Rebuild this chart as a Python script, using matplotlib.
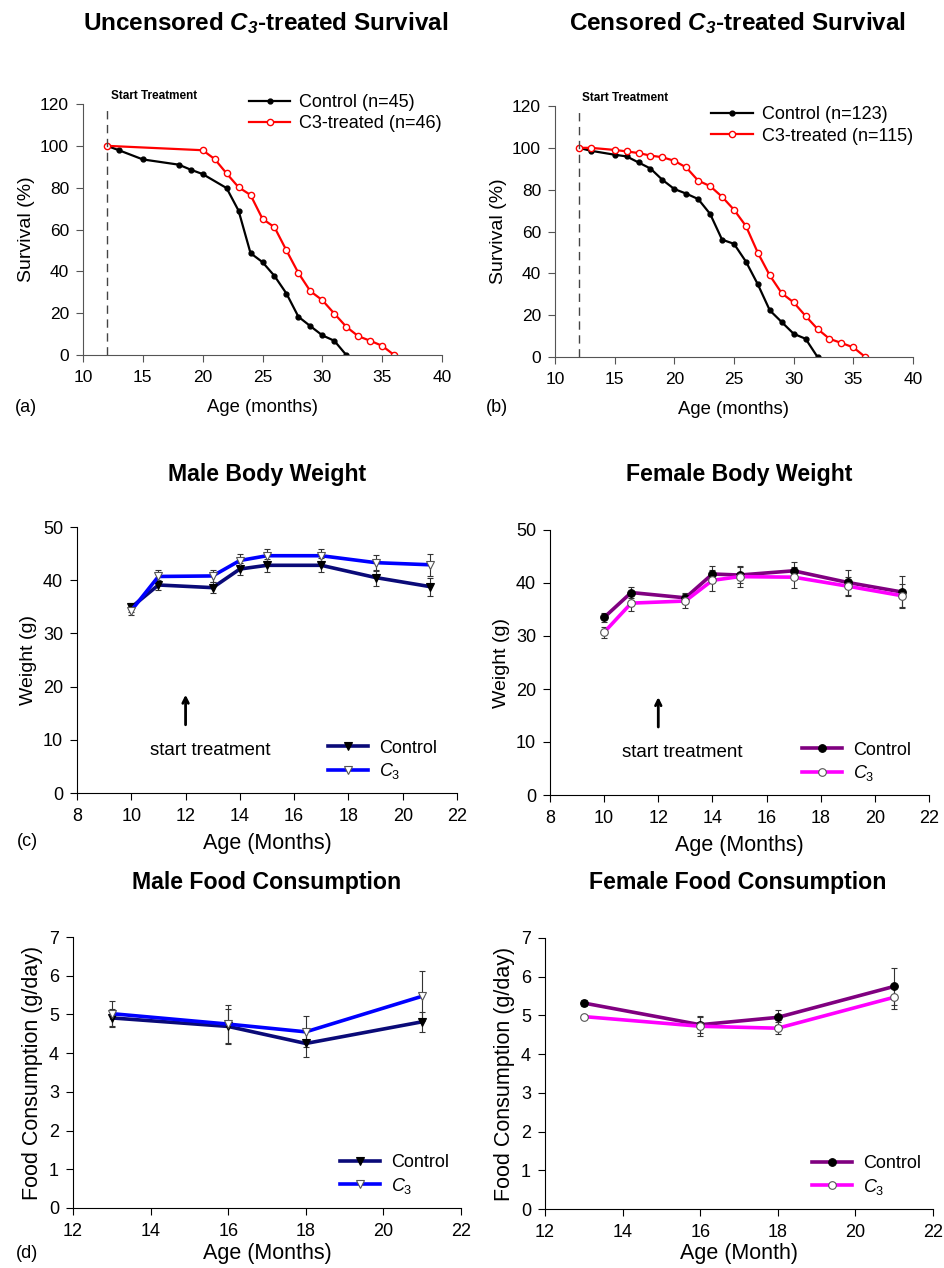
import matplotlib
matplotlib.use('Agg')
import matplotlib.pyplot as plt

plt.rcParams['font.family'] = ['Liberation Sans', 'DejaVu Sans']
plt.rcParams['mathtext.fontset'] = 'custom'
plt.rcParams['mathtext.rm'] = 'Liberation Sans'
plt.rcParams['mathtext.it'] = 'Liberation Sans:italic'
plt.rcParams['mathtext.bf'] = 'Liberation Sans:bold:italic'

# survival data (percent alive)
uncens_ctrl_age = [12, 13, 15, 18, 19, 20, 22, 23, 24, 25, 26, 27, 28, 29, 30, 31, 32]
uncens_ctrl_surv = [100, 97.9, 93.5, 91, 88.6, 86.5, 79.8, 69, 48.7, 44.4, 37.8, 29.4, 18.3, 13.8, 9.4, 6.8, 0]
uncens_c3_age = [12, 20, 21, 22, 23, 24, 25, 26, 27, 28, 29, 30, 31, 32, 33, 34, 35, 36]
uncens_c3_surv = [100, 97.9, 93.7, 86.8, 80.2, 76.5, 65.1, 61.1, 50, 39.2, 30.5, 26.2, 19.8, 13.5, 9, 6.8, 4.4, 0]

cens_ctrl_age = [12, 13, 15, 16, 17, 18, 19, 20, 21, 22, 23, 24, 25, 26, 27, 28, 29, 30, 31, 32]
cens_ctrl_surv = [100, 98.6, 96.7, 95.9, 93, 90.1, 84.7, 80.3, 78.1, 75.5, 68.4, 56.1, 54.1, 45.6, 34.7, 22.3, 16.7, 11.1, 8.7, 0]
cens_c3_age = [12, 13, 15, 16, 17, 18, 19, 20, 21, 22, 23, 24, 25, 26, 27, 28, 29, 30, 31, 32, 33, 34, 35, 36]
cens_c3_surv = [100, 100, 99, 98.3, 97.5, 96.3, 95.5, 93.8, 90.6, 84.3, 81.7, 76.6, 70.4, 62.6, 49.8, 39, 30.5, 26.1, 19.6, 13.4, 8.7, 6.7, 4.6, 0]

# body weight (g), mean and error
weight_age = [10, 11, 13, 14, 15, 17, 19, 21]
male_w_ctrl = [34.9, 39.1, 38.6, 42.1, 42.8, 42.8, 40.5, 38.8]
male_w_ctrl_err = [0.8, 1.0, 1.0, 1.2, 1.2, 1.3, 1.5, 1.7]
male_w_c3 = [34.3, 40.7, 40.8, 43.7, 44.6, 44.6, 43.3, 42.9]
male_w_c3_err = [0.8, 1.2, 1.2, 1.3, 1.2, 1.2, 1.5, 2.1]
female_w_ctrl = [33.5, 38.2, 37.2, 41.7, 41.5, 42.3, 40.1, 38.3]
female_w_ctrl_err = [0.8, 1.0, 1.0, 1.6, 1.5, 1.6, 2.4, 3.0]
female_w_c3 = [30.7, 36.2, 36.6, 40.5, 41.2, 41.1, 39.4, 37.6]
female_w_c3_err = [1.0, 1.5, 1.3, 2.0, 2.0, 2.0, 1.8, 2.2]

# food consumption (g/day)
food_age = [13, 16, 18, 21]
male_f_ctrl = [4.91, 4.69, 4.25, 4.81]
male_f_ctrl_err = [0.24, 0.45, 0.35, 0.26]
male_f_c3 = [5.02, 4.75, 4.55, 5.47]
male_f_c3_err = [0.32, 0.5, 0.4, 0.65]
female_f_ctrl = [5.32, 4.76, 4.95, 5.75]
female_f_ctrl_err = [0.08, 0.22, 0.2, 0.47]
female_f_c3 = [4.97, 4.72, 4.67, 5.47]
female_f_c3_err = [0.05, 0.25, 0.15, 0.3]

W, H = 944, 1268
fig = plt.figure(figsize=(W / 100, H / 100), dpi=100)


# axes from pixel box (left, top, right, bottom)
def add_ax(l, t, r, b, xlab_px):
    ax = fig.add_axes([l / W, 1 - b / H, (r - l) / W, (b - t) / H])
    ax.spines['top'].set_visible(False)
    ax.spines['right'].set_visible(False)
    ax.tick_params(labelsize=13, direction='out', length=5)
    ax.tick_params(axis='x', pad=6)
    ax.tick_params(axis='y', pad=5)
    # x label centre, pixels below the axis line
    ax.xaxis.set_label_coords(0.5, -xlab_px / (b - t))
    return ax


def survival_panel(box, ctrl_age, ctrl, c3_age, c3, n_ctrl, n_c3, title, tx, letter, lx, leg_y):
    ax = add_ax(*box, 53)
    for s in ['left', 'bottom']:
        ax.spines[s].set_color('#555555')
    ax.tick_params(colors='#555555', labelcolor='black', labelsize=12.5)
    ax.plot(ctrl_age, ctrl, color='black', lw=1.6, marker='o', ms=3.5,
            label='Control (n=%d)' % n_ctrl)
    ax.plot(c3_age, c3, color='#ff0000', lw=1.6, marker='o', ms=4.5,
            mfc='white', mec='#ff0000', mew=1, label='C3-treated (n=%d)' % n_c3)
    ax.plot([12, 12], [0, 117], color='#444444', lw=1, ls=(0, (6, 4)), clip_on=False)
    ax.text(12.3, 124, 'Start Treatment', fontsize=8.5, fontweight='bold',
            va='center', clip_on=False)
    ax.set_xlim(10, 40)
    ax.set_ylim(0, 120)
    ax.set_xticks(range(10, 41, 5))
    ax.set_yticks(range(0, 121, 20))
    ax.set_ylabel('Survival (%)', fontsize=14)
    ax.set_xlabel('Age (months)', fontsize=13.3, va='center')
    ax.legend(loc='upper right', bbox_to_anchor=(1.0, leg_y), frameon=False,
              fontsize=13, handlelength=2.3, handletextpad=0.5, labelspacing=0.25,
              borderaxespad=0, borderpad=0)
    fig.text(tx / W, 1 - 23 / H, title, fontsize=17.5, fontweight='bold', ha='center', va='center')
    fig.text(lx / W, 1 - 408 / H, letter, fontsize=13, ha='center', va='center')
    return ax


def series(ax, x, y, err, color, marker, mfc, mec):
    eb = ax.errorbar(x, y, yerr=err, color=color, lw=2.6, marker=marker, ms=5.5,
                     mfc=mfc, mec=mec, mew=0.8, ecolor='#333333', elinewidth=0.8,
                     capsize=2.5, capthick=0.8)
    return eb[0]


def bottom_legend(ax, h1, h2, right_px):
    w = ax.get_position().width * W
    ax.legend([h1, h2], ['Control', '$C_3$'], loc='lower right',
              bbox_to_anchor=(1 - right_px / w, 0.045), frameon=False, fontsize=13,
              handlelength=2.2, handletextpad=0.6, labelspacing=0.25,
              borderaxespad=0, borderpad=0)


survival_panel((83, 104, 442, 355), uncens_ctrl_age, uncens_ctrl_surv, uncens_c3_age, uncens_c3_surv,
               45, 46, r'Uncensored $\mathbf{C_3}$-treated Survival', 266, '(a)', 26, 1.04)
survival_panel((555, 106, 913, 357), cens_ctrl_age, cens_ctrl_surv, cens_c3_age, cens_c3_surv,
               123, 115, r'Censored $\mathbf{C_3}$-treated Survival', 737, '(b)', 497, 1.0)

# body weight panels
weight_sets = [
    ((77, 527, 457, 793), male_w_ctrl, male_w_ctrl_err, male_w_c3, male_w_c3_err,
     '#0a0a78', '#0000ff', 'v', 'Male Body Weight', 267, 20),
    ((550, 530, 929, 795), female_w_ctrl, female_w_ctrl_err, female_w_c3, female_w_c3_err,
     '#800080', '#ff00ff', 'o', 'Female Body Weight', 739, 18),
]
for box, wc, wce, w3, w3e, c1, c2, mk, title, tx, rpx in weight_sets:
    ax = add_ax(*box, 50)
    h1 = series(ax, weight_age, wc, wce, c1, mk, 'black', 'black')
    h2 = series(ax, weight_age, w3, w3e, c2, mk, 'white', '#555555')
    ax.set_xlim(8, 22)
    ax.set_ylim(0, 50)
    ax.set_xticks(range(8, 23, 2))
    ax.set_yticks(range(0, 51, 10))
    ax.set_ylabel('Weight (g)', fontsize=14)
    ax.set_xlabel('Age (Months)', fontsize=15.5, va='center')
    ax.annotate('', xy=(12, 19), xytext=(12, 12.3),
                arrowprops=dict(arrowstyle='->', lw=2, color='black'))
    ax.text(12.9, 8, 'start treatment', fontsize=13.5, ha='center', va='center')
    bottom_legend(ax, h1, h2, rpx)
    fig.text(tx / W, 1 - 475 / H, title, fontsize=16.7, fontweight='bold', ha='center', va='center')
fig.text(27 / W, 1 - 842 / H, '(c)', fontsize=13, ha='center', va='center')

# food consumption panels
food_sets = [
    ((73, 937, 461, 1208), male_f_ctrl, male_f_ctrl_err, male_f_c3, male_f_c3_err,
     '#0a0a78', '#0000ff', 'v', 'Male Food Consumption', 267, 'Age (Months)', 12),
    ((545, 938, 933, 1209), female_f_ctrl, female_f_ctrl_err, female_f_c3, female_f_c3_err,
     '#800080', '#ff00ff', 'o', 'Female Food Consumption', 738, 'Age (Month)', 12),
]
for box, fc, fce, f3, f3e, c1, c2, mk, title, tx, xl, rpx in food_sets:
    ax = add_ax(*box, 45)
    h1 = series(ax, food_age, fc, fce, c1, mk, 'black', 'black')
    h2 = series(ax, food_age, f3, f3e, c2, mk, 'white', '#555555')
    ax.set_xlim(12, 22)
    ax.set_ylim(0, 7)
    ax.set_xticks(range(12, 23, 2))
    ax.set_yticks(range(0, 8))
    ax.set_ylabel('Food Consumption (g/day)', fontsize=15.5)
    ax.set_xlabel(xl, fontsize=15.5, va='center')
    bottom_legend(ax, h1, h2, rpx)
    fig.text(tx / W, 1 - 883 / H, title, fontsize=16.7, fontweight='bold', ha='center', va='center')
fig.text(27 / W, 1 - 1253 / H, '(d)', fontsize=13, ha='center', va='center')

plt.savefig('out.png', dpi=100)
